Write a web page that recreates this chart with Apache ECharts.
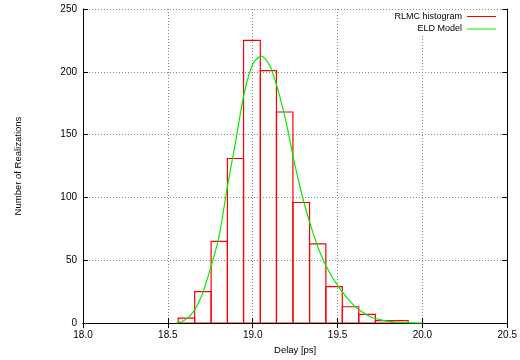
<!DOCTYPE html>
<html>
<head>
<meta charset="utf-8">
<script src="https://cdn.jsdelivr.net/npm/echarts@6/dist/echarts.min.js"></script>
<style>html,body{margin:0;padding:0;background:#fff}#c{width:520px;height:360px}</style>
</head>
<body>
<div id="c"></div>
<script>
// Histogram bins (left/right edges in ps) and counts
var binEdges = [18.561, 18.658, 18.755, 18.851, 18.946, 19.045, 19.140, 19.237, 19.335, 19.431, 19.528, 19.625, 19.723, 19.820, 19.916];
var binCounts = [4, 25, 65, 131, 225, 201, 168, 96, 63, 29, 13, 7, 2, 2];

// ELD model curve
var modelX = [18.55, 18.60, 18.65, 18.70, 18.75, 18.80, 18.85, 18.90, 18.95, 19.00, 19.05, 19.10, 19.15, 19.20, 19.25, 19.30, 19.35, 19.40, 19.45, 19.50, 19.55, 19.60, 19.65, 19.70, 19.75, 19.80, 19.90, 20.00];
var modelY = [0, 2.5, 9, 22, 43, 68, 108, 145, 183, 206, 212.5, 205, 185, 158, 125, 97, 74, 55, 41, 30, 21, 13.5, 8.5, 4.7, 2.8, 1.4, 0.3, 0.05];

var xTicks = [18.0, 18.5, 19.0, 19.5, 20.0, 20.5];
var yTicks = [0, 50, 100, 150, 200, 250];

var FONT = '"Liberation Sans", Arial, Helvetica, sans-serif';

var histData = binCounts.map(function (c, i) { return [binEdges[i], binEdges[i + 1], c]; });
var lineData = modelX.map(function (x, i) { return [x, modelY[i]]; });

var chart = echarts.init(document.getElementById('c'), null, { renderer: 'canvas' });

var baseAxisX = {
  type: 'value', min: xTicks[0], max: xTicks[xTicks.length - 1], interval: 0.5
};
var baseAxisY = {
  type: 'value', min: yTicks[0], max: yTicks[yTicks.length - 1], interval: 50
};

chart.setOption({
  animation: false,
  backgroundColor: '#fff',
  textStyle: { fontFamily: FONT },
  grid: { left: 83, right: 12, top: 9, bottom: 32, containLabel: false },
  legend: {
    orient: 'vertical', right: 20, top: 10, align: 'right',
    itemWidth: 29, itemHeight: 1, itemGap: 3.5,
    backgroundColor: '#fff', padding: [2, 4, 2, 4],
    textStyle: { fontFamily: FONT, fontSize: 9, color: '#000', padding: [0, 0, 0, 0] },
    data: [
      { name: 'RLMC histogram', icon: 'rect', itemStyle: { color: '#ff0000' } },
      { name: 'ELD Model', icon: 'rect', itemStyle: { color: '#00ee00' } }
    ]
  },
  xAxis: [
    Object.assign({}, baseAxisX, {
      position: 'bottom',
      name: 'Delay [ps]', nameLocation: 'middle', nameGap: 19,
      nameTextStyle: { fontFamily: FONT, fontSize: 9.5, color: '#000' },
      axisLine: { show: true, lineStyle: { color: '#000', width: 1 } },
      axisTick: { show: true, inside: true, length: 5, lineStyle: { color: '#000' } },
      axisLabel: { fontFamily: FONT, fontSize: 10, color: '#000', margin: 7,
        formatter: function (v) { return v.toFixed(1); } },
      splitLine: { show: true, lineStyle: { color: '#888', type: [1, 2], width: 1 } }
    }),
    Object.assign({}, baseAxisX, {
      position: 'top',
      axisLine: { show: true, lineStyle: { color: '#000', width: 1 } },
      axisTick: { show: true, inside: true, length: 5, lineStyle: { color: '#000' } },
      axisLabel: { show: false },
      splitLine: { show: false }
    })
  ],
  yAxis: [
    Object.assign({}, baseAxisY, {
      position: 'left',
      name: 'Number of Realizations', nameLocation: 'middle', nameGap: 60, nameRotate: 90,
      nameTextStyle: { fontFamily: FONT, fontSize: 9.5, color: '#000' },
      axisLine: { show: true, lineStyle: { color: '#000', width: 1 } },
      axisTick: { show: true, inside: true, length: 5, lineStyle: { color: '#000' } },
      axisLabel: { fontFamily: FONT, fontSize: 10, color: '#000', margin: 6 },
      splitLine: { show: true, lineStyle: { color: '#888', type: [1, 2], width: 1 } }
    }),
    Object.assign({}, baseAxisY, {
      position: 'right',
      axisLine: { show: true, lineStyle: { color: '#000', width: 1 } },
      axisTick: { show: true, inside: true, length: 5, lineStyle: { color: '#000' } },
      axisLabel: { show: false },
      splitLine: { show: false }
    })
  ],
  series: [
    {
      name: 'RLMC histogram',
      type: 'custom',
      xAxisIndex: 0, yAxisIndex: 0,
      itemStyle: { color: '#ff0000' },
      clip: true,
      renderItem: function (params, api) {
        var p0 = api.coord([api.value(0), api.value(2)]);
        var p1 = api.coord([api.value(1), 0]);
        return {
          type: 'rect',
          shape: { x: p0[0], y: p0[1], width: p1[0] - p0[0], height: p1[1] - p0[1] },
          style: { fill: 'none', stroke: '#ff0000', lineWidth: 1.2 }
        };
      },
      encode: { x: [0, 1], y: 2 },
      data: histData,
      z: 2
    },
    {
      name: 'ELD Model',
      type: 'line',
      xAxisIndex: 0, yAxisIndex: 0,
      smooth: 0.3,
      showSymbol: false,
      symbol: 'none',
      lineStyle: { color: '#00ee00', width: 1.2 },
      itemStyle: { color: '#00ee00' },
      data: lineData,
      z: 3
    }
  ]
});
</script>
</body>
</html>
